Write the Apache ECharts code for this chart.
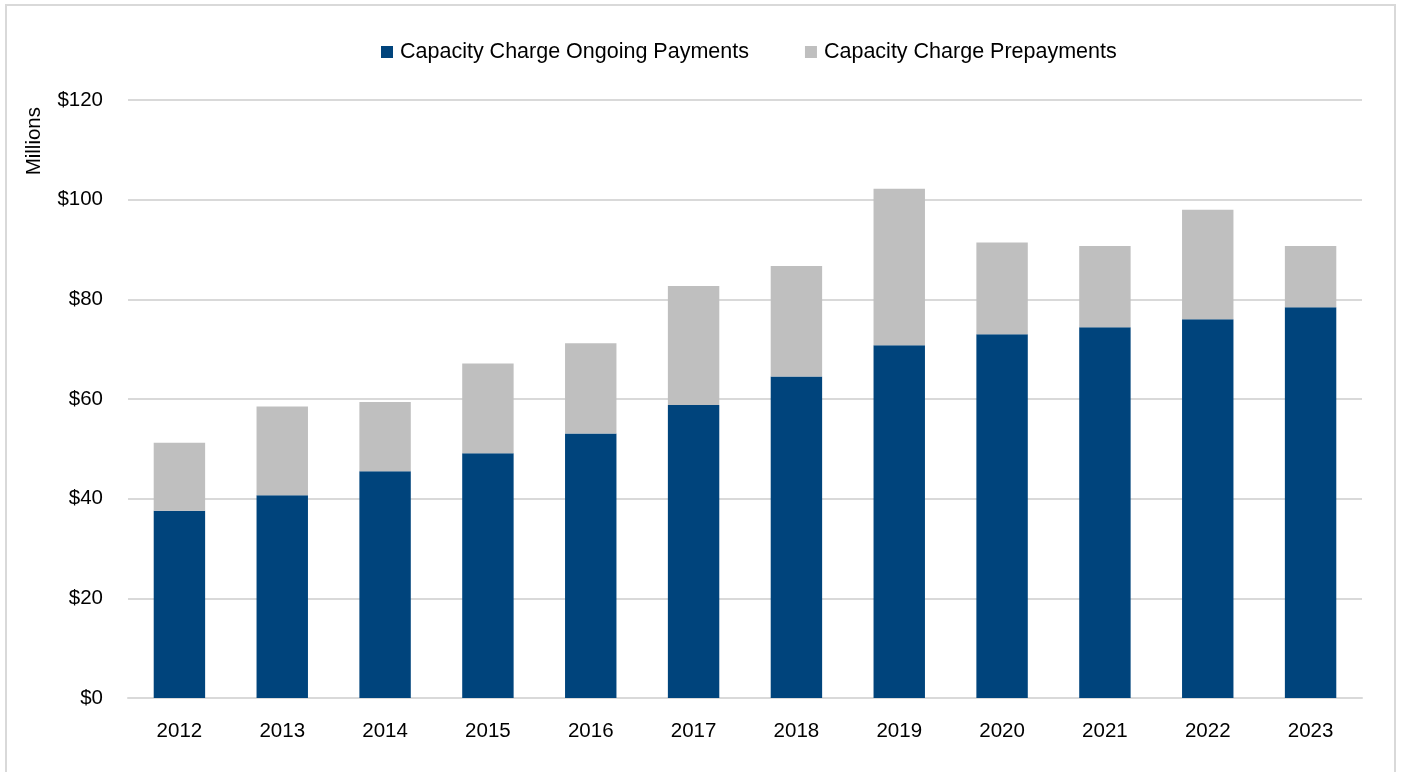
<!DOCTYPE html>
<html>
<head>
<meta charset="utf-8">
<script src="https://cdn.jsdelivr.net/npm/echarts@6/dist/echarts.min.js"></script>
<style>
html,body{margin:0;padding:0;background:#fff;}
#chart{width:1401px;height:772px;}
</style>
</head>
<body>
<div id="chart"></div>
<script>
const categories = ['2012','2013','2014','2015','2016','2017','2018','2019','2020','2021','2022','2023'];
const ongoingPayments = [37.6, 40.7, 45.5, 49.1, 53.1, 58.8, 64.5, 70.8, 73.0, 74.4, 76.0, 78.4];
const prepayments = [13.6, 17.8, 13.9, 18.0, 18.1, 23.9, 22.2, 31.4, 18.4, 16.3, 22.0, 12.3];
const seriesNames = ['Capacity Charge Ongoing Payments', 'Capacity Charge Prepayments'];
const yAxisName = 'Millions';

const chart = echarts.init(document.getElementById('chart'), null, {renderer:'canvas'});
const font = 'Arial, "Liberation Sans", sans-serif';
chart.setOption({
  animation: false,
  backgroundColor: '#ffffff',
  textStyle: {fontFamily: font},
  graphic: [{
    type: 'rect',
    shape: {x: 6, y: 5, width: 1389, height: 790},
    style: {fill: 'none', stroke: '#d9d9d9', lineWidth: 2},
    silent: true, z: -10
  }, {
    type: 'text',
    left: 24, top: 107,
    rotation: Math.PI/2,
    style: {text: yAxisName, font: '20.5px ' + font, fill: '#000'}
  }],
  legend: {
    data: seriesNames,
    left: 376, top: 36,
    itemWidth: 12, itemHeight: 12, itemGap: 56,
    icon: 'rect',
    textStyle: {fontSize: 21.5, color: '#000', fontFamily: font, padding: [0,0,0,2]}
  },
  grid: {left: 128, right: 39, top: 100, bottom: 74, containLabel: false},
  xAxis: {
    type: 'category',
    data: categories,
    axisLine: {show: true, lineStyle: {color: '#d9d9d9', width: 2}},
    axisTick: {show: false},
    axisLabel: {fontSize: 20.5, color: '#000', margin: 23, fontFamily: font}
  },
  yAxis: {
    type: 'value',
    min: 0, max: 120, interval: 20,
    axisLine: {show: false},
    axisTick: {show: false},
    splitLine: {lineStyle: {color: '#d9d9d9', width: 2}},
    axisLabel: {fontSize: 20.5, color: '#000', margin: 25, fontFamily: font,
      formatter: v => '$' + v}
  },
  series: [{
    name: seriesNames[0], type: 'bar', stack: 'total',
    data: ongoingPayments, barWidth: '50%',
    itemStyle: {color: '#00447c'}
  }, {
    name: seriesNames[1], type: 'bar', stack: 'total',
    data: prepayments, barWidth: '50%',
    itemStyle: {color: '#bfbfbf'}
  }]
});
</script>
</body>
</html>
